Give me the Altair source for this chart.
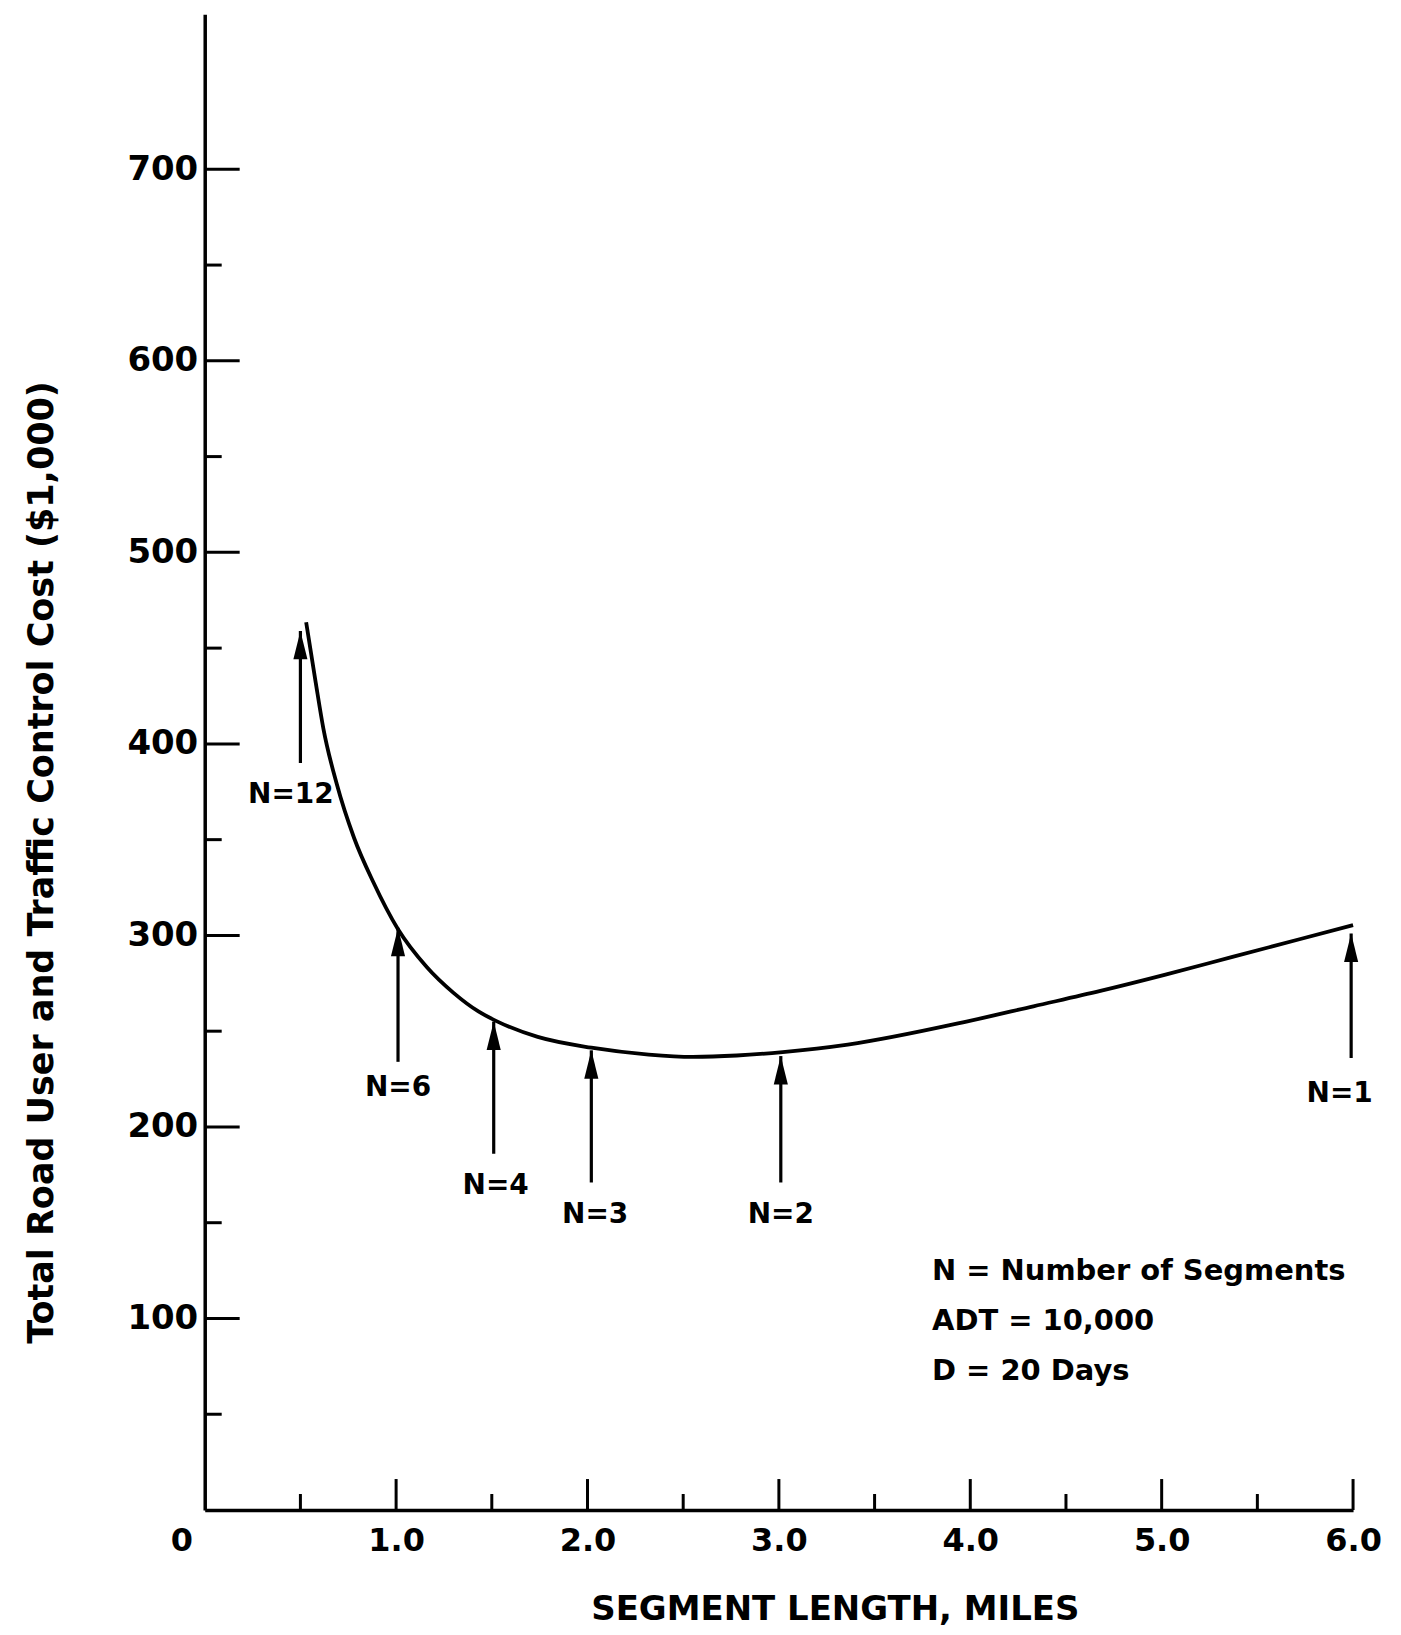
import altair as alt
import pandas as pd

# ---- data ----
seg_len = [0.53, 0.58, 0.62, 0.69, 0.78, 0.88, 1.01, 1.16, 1.30, 1.43, 1.53, 1.74,
           2.02, 2.32, 2.55, 2.78, 3.02, 3.36, 3.98, 4.33, 4.68, 5.02, 5.37, 5.72, 6.00]
cost = [463.5, 432.0, 408.0, 379.0, 351.0, 328.0, 303.2, 283.5, 270.0, 260.3, 255.0, 247.0,
        241.4, 237.8, 236.6, 237.3, 239.1, 243.0, 255.0, 263.0, 271.0, 279.5, 288.8, 298.0, 305.4]

arrow_text = ["N=12", "N=6", "N=4", "N=3", "N=2", "N=1"]
arrow_x = [0.50, 1.01, 1.51, 2.02, 3.01, 5.99]
arrow_tip = [459, 304, 255, 240, 237, 301]
arrow_tail = [390, 234, 186, 171, 171, 236]
label_x = [0.45, 1.01, 1.52, 2.04, 3.01, 5.93]
label_y = [369, 216, 165, 150, 150, 213]

note_lines = ["N = Number of Segments", "ADT = 10,000", "D = 20 Days"]
note_x = [3.80, 3.80, 3.80]
note_y = [120, 94, 68]

x_major = [1, 2, 3, 4, 5, 6]
x_minor = [0.5, 1.5, 2.5, 3.5, 4.5, 5.5]
y_major = [100, 200, 300, 400, 500, 600, 700]
y_minor = [50, 150, 250, 350, 450, 550, 650]

# ---- tables ----
curve_df = pd.DataFrame({"x": seg_len, "y": cost})
arrow_df = pd.DataFrame({"x": arrow_x, "tip": arrow_tip, "tail": arrow_tail})
label_df = pd.DataFrame({"x": label_x, "y": label_y, "t": arrow_text})
note_df = pd.DataFrame({"x": note_x, "y": note_y, "t": note_lines})
xmaj_df = pd.DataFrame({"x": x_major})
xmin_df = pd.DataFrame({"x": x_minor})
ymaj_df = pd.DataFrame({"y": y_major})
ymin_df = pd.DataFrame({"y": y_minor})
zero_df = pd.DataFrame({"x": [0], "y": [0], "t": ["0"]})

W, H = 1150, 1498
FONT = "DejaVu Sans"

xs = alt.Scale(domain=[0, 6], nice=False, zero=False)
ys = alt.Scale(domain=[0, 781], nice=False, zero=False)

xaxis = alt.Axis(
    values=x_major, format=".1f", title="SEGMENT LENGTH, MILES", grid=False,
    ticks=False, tickSize=0, labelFlush=False, labelOverlap=False,
    labelFont=FONT, labelFontWeight="bold", labelFontSize=32, labelColor="black",
    labelPadding=16, domainColor="black", domainWidth=3.5,
    titleFont=FONT, titleFontWeight="bold", titleFontSize=34, titleColor="black",
    titleX=631, titleY=110, titleBaseline="alphabetic", titleAlign="center",
)
yaxis = alt.Axis(
    values=y_major, format="d", title="Total Road User and Traffic Control Cost ($1,000)",
    grid=False, ticks=False, tickSize=0, labelFlush=False, labelOverlap=False,
    labelFont=FONT, labelFontWeight="bold", labelFontSize=34, labelColor="black",
    labelPadding=7, domainColor="black", domainWidth=3.5,
    titleFont=FONT, titleFontWeight="bold", titleFontSize=35, titleColor="black",
    titleAngle=270, titleX=-152, titleY=849, titleBaseline="alphabetic", titleAlign="center",
)

X = alt.X("x:Q", scale=xs, axis=xaxis)
Y = alt.Y("y:Q", scale=ys, axis=yaxis)

curve = alt.Chart(curve_df).mark_line(
    interpolate="monotone", color="black", strokeWidth=3.8
).encode(x=X, y=Y)

shafts = alt.Chart(arrow_df).mark_rule(color="black", strokeWidth=3.2).encode(
    x=X, y=alt.Y("tail:Q", scale=ys, axis=yaxis), y2="tip:Q"
)

heads = alt.Chart(arrow_df).mark_point(
    shape="M0,0L-0.62,2.5L0.62,2.5Z", filled=True, size=520,
    color="black", opacity=1, strokeWidth=0
).encode(x=X, y=alt.Y("tip:Q", scale=ys, axis=yaxis))

labels = alt.Chart(label_df).mark_text(
    font=FONT, fontWeight="bold", fontSize=28, align="center",
    baseline="alphabetic", color="black"
).encode(x=X, y=Y, text="t:N")

notes = alt.Chart(note_df).mark_text(
    font=FONT, fontWeight="bold", fontSize=29, align="left",
    baseline="alphabetic", color="black"
).encode(x=X, y=Y, text="t:N")

xt_major = alt.Chart(xmaj_df).mark_rule(color="black", strokeWidth=3).encode(
    x=X, y=alt.value(H), y2=alt.value(H - 31)
)
xt_minor = alt.Chart(xmin_df).mark_rule(color="black", strokeWidth=3).encode(
    x=X, y=alt.value(H), y2=alt.value(H - 16)
)
yt_major = alt.Chart(ymaj_df).mark_rule(color="black", strokeWidth=3).encode(
    y=Y, x=alt.value(0), x2=alt.value(35)
)
yt_minor = alt.Chart(ymin_df).mark_rule(color="black", strokeWidth=3).encode(
    y=Y, x=alt.value(0), x2=alt.value(17)
)

zero_label = alt.Chart(zero_df).mark_text(
    font=FONT, fontWeight="bold", fontSize=32, align="center",
    baseline="top", dx=-23, dy=16, color="black"
).encode(x=X, y=Y, text="t:N")

chart = alt.layer(
    curve, shafts, heads, labels, notes, xt_major, xt_minor, yt_major, yt_minor, zero_label
).properties(
    width=W, height=H,
    padding={"left": 197, "top": 5, "right": 40, "bottom": 116},
    autosize=alt.AutoSizeParams(type="none"),
    background="white",
).configure_view(strokeWidth=0)

chart.save("out.html", embed_options={"renderer": "svg", "actions": False})
